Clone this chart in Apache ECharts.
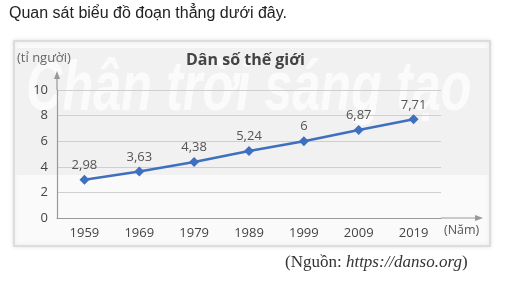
<!DOCTYPE html>
<html><head><meta charset="utf-8">
<script src="https://cdn.jsdelivr.net/npm/echarts@6/dist/echarts.min.js"></script>
<style>html,body{margin:0;padding:0;background:#fff}#c{width:505px;height:282px}</style>
</head><body><div id="c"></div>
<script>
const years = ['1959','1969','1979','1989','1999','2009','2019'];
const population = [2.98, 3.63, 4.38, 5.24, 6, 6.87, 7.71];
const yTicks = {min: 0, max: 10, interval: 2};
const headerText = 'Quan sát biểu đồ đoạn thẳng dưới đây.';
const chartTitle = 'Dân số thế giới';
const yUnit = '(tỉ người)';
const xUnit = '(Năm)';

const chart = echarts.init(document.getElementById('c'), null, {renderer: 'canvas'});
const fmt = v => String(v).replace('.', ',');
chart.setOption({
  animation: false,
  backgroundColor: '#fff',
  grid: {left: 57, right: 64, top: 90, bottom: 64, containLabel: false},
  graphic: [
    {type: 'rect', z: -10, shape: {x: 14, y: 41, width: 476, height: 205},
     style: {fill: '#fafafa', stroke: '#d6d6d6', lineWidth: 1.5, shadowBlur: 4, shadowColor: 'rgba(0,0,0,0.12)'}},
    {type: 'rect', z: -9, shape: {x: 15, y: 48, width: 474, height: 127}, style: {fill: '#f1f1f1'}},
    {type: 'text', z: -8, x: 26, y: 56, scaleX: 0.72, style: {text: 'Chân trời sáng tạo', fill: '#ffffff', font: 'italic bold 70px "Liberation Sans", sans-serif', opacity: 0.7}},
    {type: 'text', left: 9, top: 6, style: {text: headerText, fill: '#222', font: '16px "Liberation Sans", Arial, sans-serif'}},
    {type: 'text', left: 17, top: 52, style: {text: yUnit, fill: '#666', font: '13px "Open Sans", sans-serif'}},
    {type: 'text', left: 186, top: 52, style: {text: chartTitle, fill: '#444', font: 'bold 16px "Open Sans", sans-serif'}},
    {type: 'text', left: 444, top: 224, style: {text: xUnit, fill: '#555', font: '12.5px "Open Sans", sans-serif'}},
    {type: 'text', left: 285, top: 254, style: {rich: {a: {font: '17px "Liberation Serif", serif', fill: '#333'}, b: {font: 'italic 17px "Liberation Serif", serif', fill: '#333'}}, text: '{a|(Nguồn: }{b|https://danso.org}{a|)}'}},
    {type: 'line', shape: {x1: 441, y1: 218, x2: 479, y2: 218}, style: {stroke: '#999', lineWidth: 1.2}},
    {type: 'polygon', shape: {points: [[483, 218], [475, 215], [475, 221]]}, style: {fill: '#999'}},
    {type: 'line', shape: {x1: 57, y1: 90, x2: 57, y2: 76}, style: {stroke: '#999', lineWidth: 1.2}},
    {type: 'polygon', shape: {points: [[57, 71], [54, 79], [60, 79]]}, style: {fill: '#999'}}
  ],
  xAxis: {
    type: 'category', data: years, boundaryGap: true,
    axisLine: {lineStyle: {color: '#999', width: 1.2}},
    axisTick: {alignWithLabel: true, length: 4, inside: true, lineStyle: {color: '#999'}},
    axisLabel: {color: '#444', fontSize: 13, margin: 9, fontFamily: '"Open Sans", sans-serif'}
  },
  yAxis: {
    type: 'value', min: yTicks.min, max: yTicks.max, interval: yTicks.interval,
    axisLine: {show: true, lineStyle: {color: '#999', width: 1.2}},
    axisTick: {show: false},
    axisLabel: {color: '#444', fontSize: 13, margin: 9, fontFamily: '"Open Sans", sans-serif'},
    splitLine: {lineStyle: {color: '#cfcfcf', width: 1}}
  },
  series: [{
    type: 'line', data: population,
    symbol: 'diamond', symbolSize: 10,
    lineStyle: {color: '#3f6fbf', width: 2.5},
    itemStyle: {color: '#3f6fbf'},
    label: {show: true, position: 'top', distance: 3, color: '#555', fontSize: 13, fontFamily: '"Open Sans", sans-serif', formatter: p => fmt(p.value)}
  }]
});
</script></body></html>
